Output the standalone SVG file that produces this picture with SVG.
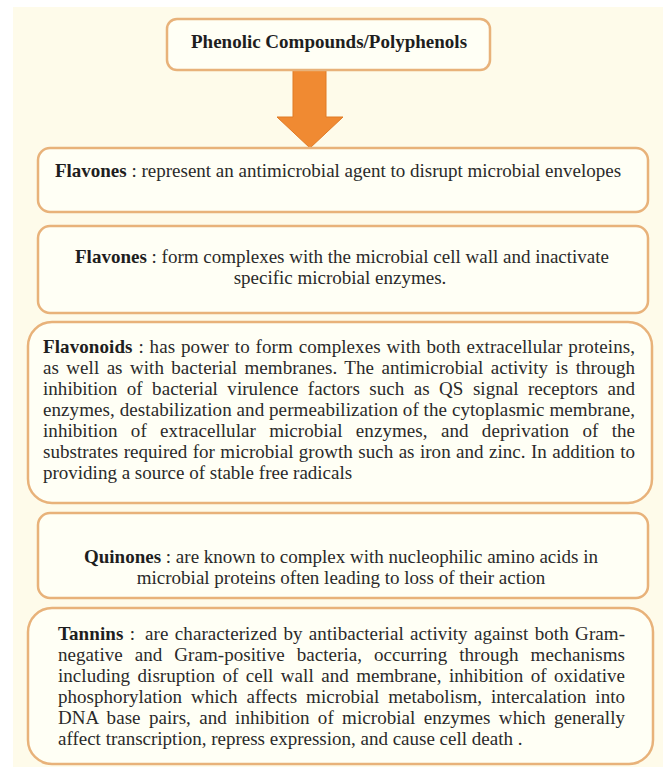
<svg xmlns="http://www.w3.org/2000/svg" width="663" height="767" viewBox="0 0 663 767">
<style>
.bg{fill:#fefbea}
.box{fill:#fffff5;stroke:#e8b27a;stroke-width:2.5}
.t{font-family:"Liberation Serif","Times New Roman",serif;font-size:19px;fill:#2a2a2a}
.b{font-weight:bold;fill:#1e1e1e}
.c{text-anchor:middle}
.arrow{fill:#f08a32;stroke:#e07a25;stroke-width:1}
</style>
<rect x="0" y="0" width="663" height="767" fill="#ffffff"/>
<rect class="bg" x="13" y="7" width="650" height="760"/>
<g id="connectors">
<polygon class="arrow" points="293,70 326,70 326,117 343,117 310,148 277,117 293,117"/>
</g>
<g id="node-phenolic">
<rect class="box" x="167" y="19" width="323" height="51" rx="10"/>
<text class="t b c" x="329" y="48" font-size="18.7">Phenolic Compounds/Polyphenols</text>
</g>
<g id="node-flavones1">
<rect class="box" x="38" y="148" width="610" height="64" rx="12"/>
<text class="t c" x="338" y="177"><tspan class="b">Flavones</tspan> : represent an antimicrobial agent to disrupt microbial envelopes</text>
</g>
<g id="node-flavones2">
<rect class="box" x="38" y="226" width="610" height="87" rx="12"/>
<text class="t c" x="342" y="263"><tspan class="b">Flavones</tspan> : form complexes with the microbial cell wall and inactivate</text>
<text class="t c" x="340" y="284">specific microbial enzymes.</text>
</g>
<g id="node-flavonoids">
<rect class="box" x="28" y="322" width="624" height="181" rx="24"/>
<text class="t" x="43" y="353" word-spacing="1" textLength="592" lengthAdjust="spacing"><tspan class="b">Flavonoids</tspan> : has power to form complexes with both extracellular proteins,</text>
<text class="t" x="43" y="374" word-spacing="2.6" textLength="592" lengthAdjust="spacing">as well as with bacterial membranes. The antimicrobial activity is through</text>
<text class="t" x="43" y="395" word-spacing="4.6" textLength="592" lengthAdjust="spacing">inhibition of bacterial virulence factors such as QS signal receptors and</text>
<text class="t" x="43" y="416" textLength="592" lengthAdjust="spacing">enzymes, destabilization and permeabilization of the cytoplasmic membrane,</text>
<text class="t" x="43" y="437" word-spacing="8.5" textLength="592" lengthAdjust="spacing">inhibition of extracellular microbial enzymes, and deprivation of the</text>
<text class="t" x="43" y="458" word-spacing="0.6" textLength="592" lengthAdjust="spacing">substrates required for microbial growth such as iron and zinc. In addition to</text>
<text class="t" x="43" y="479">providing a source of stable free radicals</text>
</g>
<g id="node-quinones">
<rect class="box" x="38" y="513" width="610" height="85" rx="12"/>
<text class="t c" x="341" y="563"><tspan class="b">Quinones</tspan> : are known to complex with nucleophilic amino acids in</text>
<text class="t c" x="341" y="584">microbial proteins often leading to loss of their action</text>
</g>
<g id="node-tannins">
<rect class="box" x="28" y="608" width="625" height="156" rx="24"/>
<text class="t" x="58" y="640" word-spacing="1.5" textLength="567" lengthAdjust="spacing"><tspan class="b">Tannins</tspan> :<tspan dx="10">are characterized by antibacterial activity against both Gram-</tspan></text>
<text class="t" x="58" y="661" word-spacing="7.2" textLength="567" lengthAdjust="spacing">negative and Gram-positive bacteria, occurring through mechanisms</text>
<text class="t" x="58" y="682" word-spacing="2.7" textLength="567" lengthAdjust="spacing">including disruption of cell wall and membrane, inhibition of oxidative</text>
<text class="t" x="58" y="703" word-spacing="4.2" textLength="567" lengthAdjust="spacing">phosphorylation which affects microbial metabolism, intercalation into</text>
<text class="t" x="58" y="724" word-spacing="3.5" textLength="567" lengthAdjust="spacing">DNA base pairs, and inhibition of microbial enzymes which generally</text>
<text class="t" x="58" y="745">affect transcription, repress expression, and cause cell death .</text>
</g>
</svg>
